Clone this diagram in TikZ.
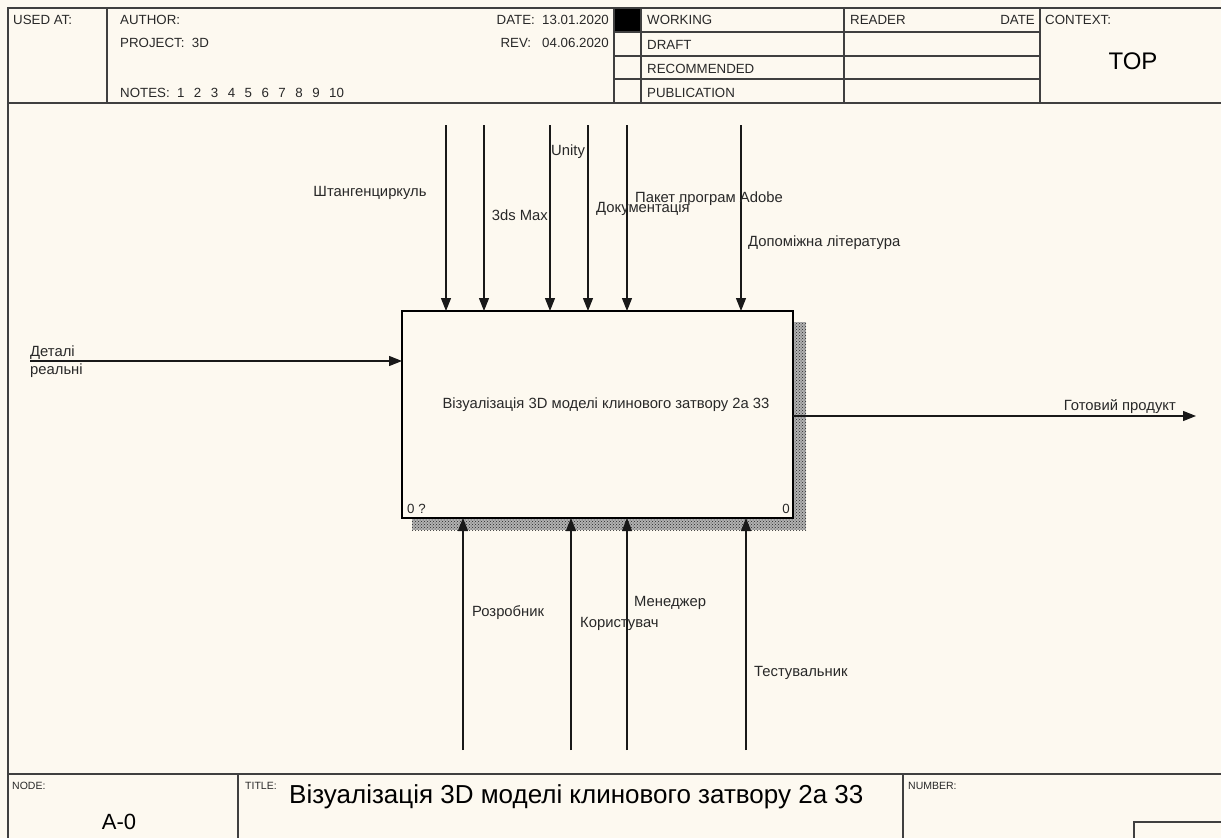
\documentclass[tikz,border=0pt]{standalone}
\usepackage{fontspec}
\setmainfont{Liberation Sans}
\usetikzlibrary{arrows.meta,patterns}
\definecolor{bg}{RGB}{253,249,240}
\definecolor{ink}{RGB}{40,40,40}
\newcommand{\nsp}{\hspace{9.5pt}}
\begin{document}
\begin{tikzpicture}[x=1pt,y=-1pt,
  lbl/.style={font=\fontsize{14.8}{18}\selectfont, text=ink, inner sep=0pt},
  hdr/.style={font=\fontsize{13.3}{15}\selectfont, text=ink, inner sep=0pt},
  tiny/.style={font=\fontsize{10.5}{12}\selectfont, text=ink, inner sep=0pt},
  arr/.style={line width=1.15pt, draw=black!90, -{Triangle[length=13pt,width=10pt]}},
  frame/.style={line width=1.4pt, draw=black!75},
  thin/.style={line width=1.1pt, draw=black!75}]
\useasboundingbox (0,0) rectangle (1221,838);
\fill[bg] (0,0) rectangle (1221,838);
\clip (0,0) rectangle (1221,838);

% ---------- header ----------
\fill[black] (614,8) rectangle (641,32);
\draw[frame] (1240,8) -- (8,8) -- (8,860);
\draw[frame] (8,103) -- (1240,103);
\foreach \x in {107,614,641,844,1040} \draw[frame] (\x,8) -- (\x,103);
\foreach \y in {32,56,79} \draw[thin] (614,\y) -- (1040,\y);

\node[hdr, anchor=base west] (usedat) at (13,24) {USED AT:};
\node[hdr, anchor=base west] (author) at (120,24) {AUTHOR:};
\node[hdr, anchor=base west] (project) at (120,47) {PROJECT:\ \ 3D};
\node[hdr, anchor=base west] (notes) at (120,97) {NOTES:\ \ 1\nsp 2\nsp 3\nsp 4\nsp 5\nsp 6\nsp 7\nsp 8\nsp 9\nsp 10};
\node[hdr, anchor=base east] (date) at (609,24) {DATE:\ \ 13.01.2020};
\node[hdr, anchor=base east] (rev) at (609,47) {REV:\ \ \ 04.06.2020};
\node[hdr, anchor=base west] (working) at (647,24) {WORKING};
\node[hdr, anchor=base west] (draft) at (647,49) {DRAFT};
\node[hdr, anchor=base west] (recom) at (647,73) {RECOMMENDED};
\node[hdr, anchor=base west] (publ) at (647,97) {PUBLICATION};
\node[hdr, anchor=base west] (reader) at (850,24) {READER};
\node[hdr, anchor=base east] (rdate) at (1035,24) {DATE};
\node[hdr, anchor=base west] (context) at (1045,24) {CONTEXT:};
\node[font=\fontsize{24}{26}\selectfont, text=black, inner sep=0pt] (top) at (1133,61) {TOP};

% ---------- footer ----------
\draw[frame] (8,774) -- (1240,774);
\foreach \x in {238,903} \draw[frame] (\x,774) -- (\x,860);
\draw[thin] (1134,860) -- (1134,822) -- (1240,822);
\node[tiny, anchor=base west] (nodelbl) at (12,789) {NODE:};
\node[tiny, anchor=base west] (titlelbl) at (245,789) {TITLE:};
\node[tiny, anchor=base west] (numlbl) at (908,789) {NUMBER:};
\node[font=\fontsize{22}{24}\selectfont, text=black, inner sep=0pt] (nodeid) at (119,822) {A-0};
\node[font=\fontsize{26}{28}\selectfont, text=black, inner sep=0pt, anchor=base west] (title) at (289,803) {Візуалізація 3D моделі клинового затвору 2а 33};

% ---------- activity box ----------
\fill[black!30] (412,322) rectangle (806,530);
\fill[pattern=crosshatch dots, pattern color=black!85] (412,322) rectangle (806,530);
\node[draw=black, line width=2.5pt, fill=bg, minimum width=391pt, minimum height=207pt,
      anchor=north west, inner sep=0pt, outer sep=0pt] (A0) at (402,311) {};
\node[lbl] (A0txt) at (606,405) {Візуалізація 3D моделі клинового затвору 2а 33};
\node[hdr, anchor=base west] (A0num) at (407,513) {0 ?};
\node[hdr, anchor=base east] (A0cost) at (790,513) {0};

% ---------- controls ----------
\foreach \n/\x in {c1/446,c2/484,c3/550,c4/588,c5/627,c6/741} {
  \coordinate (\n) at (\x,125);
  \draw[arr] (\n) -- (\n |- A0.north);
}
\node[lbl] (lc1) at (370,193) {Штангенциркуль};
\node[lbl, anchor=east] (lc2) at (548,215) {3ds Max};
\node[lbl, anchor=west] (lc3) at (551,152) {Unity};
\node[lbl, anchor=west] (lc5) at (596,209) {Документація};
\node[lbl, anchor=west] (lc6) at (635,199) {Пакет програм Adobe};
\node[lbl, anchor=west] (lc7) at (748,243) {Допоміжна література};

% ---------- input ----------
\coordinate (i1) at (30,361);
\draw[arr] (i1) -- (i1 -| A0.west);
\node[lbl, anchor=west, align=left] (li1) at (30,362) {Деталі\\реальні};

% ---------- output ----------
\coordinate (o1) at (1196,416);
\draw[arr] (A0.east |- o1) -- (o1);
\node[lbl, anchor=east] (lo1) at (1176,407) {Готовий продукт};

% ---------- mechanisms ----------
\foreach \n/\x in {m1/463,m2/571,m3/627,m4/746} {
  \coordinate (\n) at (\x,750);
  \draw[arr] (\n) -- (\n |- A0.south);
}
\node[lbl, anchor=west] (lm1) at (472,613) {Розробник};
\node[lbl, anchor=west] (lm2) at (580,624) {Користувач};
\node[lbl, anchor=west] (lm3) at (634,603) {Менеджер};
\node[lbl, anchor=west] (lm4) at (754,673) {Тестувальник};
\end{tikzpicture}
\end{document}
